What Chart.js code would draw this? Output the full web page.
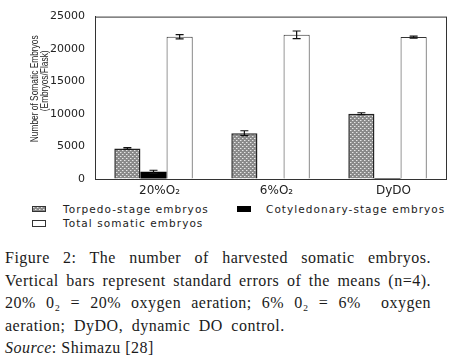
<!DOCTYPE html>
<html lang="en">
<head>
    <meta charset="UTF-8">
    <title>Harvested somatic embryos</title>
    <script src="https://cdn.jsdelivr.net/npm/chart.js"></script>
    <style>
        body { margin: 0; background: #fff; }
        .page { position: relative; width: 453px; height: 364px; overflow: hidden; }
        #chart { position: absolute; left: 0; top: 0; }
        .legend { position: absolute; font-family: 'DejaVu Sans', sans-serif; font-size: 10.5px; letter-spacing: 1.05px; color: #222; line-height: 12px; white-space: nowrap; }
        .sw { position: absolute; height: 6px; box-sizing: border-box; }
        .caption { position: absolute; left: 5px; top: 247px; width: 426px; font-family: 'Liberation Serif', 'Times New Roman', serif; font-size: 16px; line-height: 22.5px; letter-spacing: 0.5px; color: #1a1a1a; }
        .caption .j { text-align: justify; text-align-last: justify; }
    </style>
</head>
<body>
    <div class="page">
        <canvas id="chart" width="453" height="200"></canvas>

        <!-- Legend -->
        <div class="sw" id="swTorpedo" style="left:32px; top:206px; width:14px; border:1px solid #333;"></div>
        <div class="legend" style="left:63px; top:203px;">Torpedo-stage embryos</div>
        <div class="sw" style="left:237px; top:206px; width:14px; background:#000;"></div>
        <div class="legend" style="left:266px; top:203px;">Cotyledonary-stage embryos</div>
        <div class="sw" style="left:32px; top:220px; width:14px; height:7px; border:1px solid #333; background:#fff;"></div>
        <div class="legend" style="left:63px; top:217px;">Total somatic embryos</div>

        <!-- Caption -->
        <div class="caption">
            <div class="j">Figure 2: The number of harvested somatic embryos.</div>
            <div class="j">Vertical bars represent standard errors of the means (n=4).</div>
            <div class="j">20% 0₂ = 20% oxygen aeration; 6% 0₂ = 6% &nbsp;oxygen</div>
            <div style="word-spacing: 4px;">aeration; DyDO, dynamic DO control.</div>
            <div><i>Source</i>: Shimazu [28]</div>
        </div>
    </div>

    <script>
        const categories = ['20%O₂', '6%O₂', 'DyDO'];
        const torpedo = [4700, 7050, 10050];
        const torpedoErr = [120, 380, 150];
        const cotyledonary = [1100, 0, 150];
        const cotyledonaryErr = [250, 0, 0];
        const total = [21900, 22200, 21850];
        const totalErr = [330, 580, 150];
        const yMax = 25000;
        const yStep = 5000;
        const yTitle = ['Number of Somatic Embryos', '(Embryos/Flask)'];

        // dotted grey fill used for the torpedo bars
        function makePattern() {
            const c = document.createElement('canvas');
            c.width = 4;
            c.height = 4;
            const g = c.getContext('2d');
            g.fillStyle = '#8a8a8a';
            g.fillRect(0, 0, 4, 4);
            g.fillStyle = '#e6e6e6';
            g.fillRect(0, 0, 1, 1);
            g.fillRect(2, 2, 1, 1);
            g.fillStyle = '#b4b4b4';
            g.fillRect(1, 0, 1, 1);
            g.fillRect(3, 2, 1, 1);
            return c;
        }

        const tile = makePattern();
        const ctx = document.getElementById('chart').getContext('2d');
        const torpedoFill = ctx.createPattern(tile, 'repeat');
        document.getElementById('swTorpedo').style.background = 'url(' + tile.toDataURL() + ')';

        const errorBars = {
            id: 'errorBars',
            afterDatasetsDraw(chart) {
                const c = chart.ctx;
                const y = chart.scales.y;
                chart.data.datasets.forEach((ds, i) => {
                    const meta = chart.getDatasetMeta(i);
                    meta.data.forEach((bar, j) => {
                        const err = ds.errors[j];
                        if (!err) return;
                        const v = ds.data[j];
                        const top = y.getPixelForValue(v + err);
                        const bot = y.getPixelForValue(v - err);
                        c.save();
                        c.strokeStyle = '#111';
                        c.lineWidth = 1.2;
                        c.beginPath();
                        c.moveTo(bar.x, top);
                        c.lineTo(bar.x, bot);
                        c.moveTo(bar.x - 4, top);
                        c.lineTo(bar.x + 4, top);
                        c.moveTo(bar.x - 4, bot);
                        c.lineTo(bar.x + 4, bot);
                        c.stroke();
                        c.restore();
                    });
                });
            }
        };

        // box round the plot area
        const frame = {
            id: 'frame',
            afterDraw(chart) {
                const a = chart.chartArea;
                const c = chart.ctx;
                c.save();
                c.strokeStyle = '#333';
                c.lineWidth = 1;
                c.strokeRect(a.left + 0.5, a.top + 0.5, a.right - a.left, a.bottom - a.top);
                c.restore();
            }
        };

        // condensed, rotated y title (no narrow font installed, so squeeze it)
        const narrowTitle = {
            id: 'narrowTitle',
            afterDraw(chart) {
                const a = chart.chartArea;
                const c = chart.ctx;
                const mid = (a.top + a.bottom) / 2 - 9;
                c.save();
                c.fillStyle = '#222';
                c.font = '11px "Liberation Sans", Arial, sans-serif';
                c.textAlign = 'center';
                c.textBaseline = 'middle';
                yTitle.forEach((line, k) => {
                    c.save();
                    c.translate(35 + k * 10, mid - k * 8);
                    c.rotate(-Math.PI / 2);
                    c.scale(0.76, 1);
                    c.fillText(line, 0, 0);
                    c.restore();
                });
                c.restore();
            }
        };

        new Chart(ctx, {
            type: 'bar',
            data: {
                labels: categories,
                datasets: [
                    {
                        label: 'Torpedo-stage embryos',
                        data: torpedo,
                        errors: torpedoErr,
                        backgroundColor: torpedoFill,
                        borderColor: '#222',
                        borderWidth: 1.5
                    },
                    {
                        label: 'Cotyledonary-stage embryos',
                        data: cotyledonary,
                        errors: cotyledonaryErr,
                        backgroundColor: '#000',
                        borderWidth: 0
                    },
                    {
                        label: 'Total somatic embryos',
                        data: total,
                        errors: totalErr,
                        backgroundColor: '#fff',
                        borderColor: '#333',
                        borderWidth: 1
                    }
                ]
            },
            options: {
                responsive: false,
                animation: false,
                events: [],
                categoryPercentage: 0.67,
                barPercentage: 1.0,
                layout: { padding: { top: 14, right: 7, left: 0, bottom: 0 } },
                plugins: {
                    legend: { display: false },
                    tooltip: { enabled: false }
                },
                scales: {
                    x: {
                        grid: { drawOnChartArea: false, drawTicks: false },
                        border: { display: true, color: '#333' },
                        ticks: {
                            color: '#222',
                            padding: 5,
                            labelOffset: 6,
                            font: { family: 'DejaVu Sans', size: 12 }
                        },
                        afterFit(scale) { scale.height = 21; }
                    },
                    y: {
                        min: 0,
                        max: yMax,
                        grid: { drawOnChartArea: false, drawTicks: false },
                        border: { display: true, color: '#333' },
                        ticks: {
                            stepSize: yStep,
                            color: '#222',
                            padding: 10,
                            font: { family: 'DejaVu Sans', size: 11 },
                            callback: v => String(v)
                        },
                        afterFit(scale) { scale.width = 95; }
                    }
                }
            },
            plugins: [errorBars, frame, narrowTitle]
        });
    </script>
</body>
</html>
